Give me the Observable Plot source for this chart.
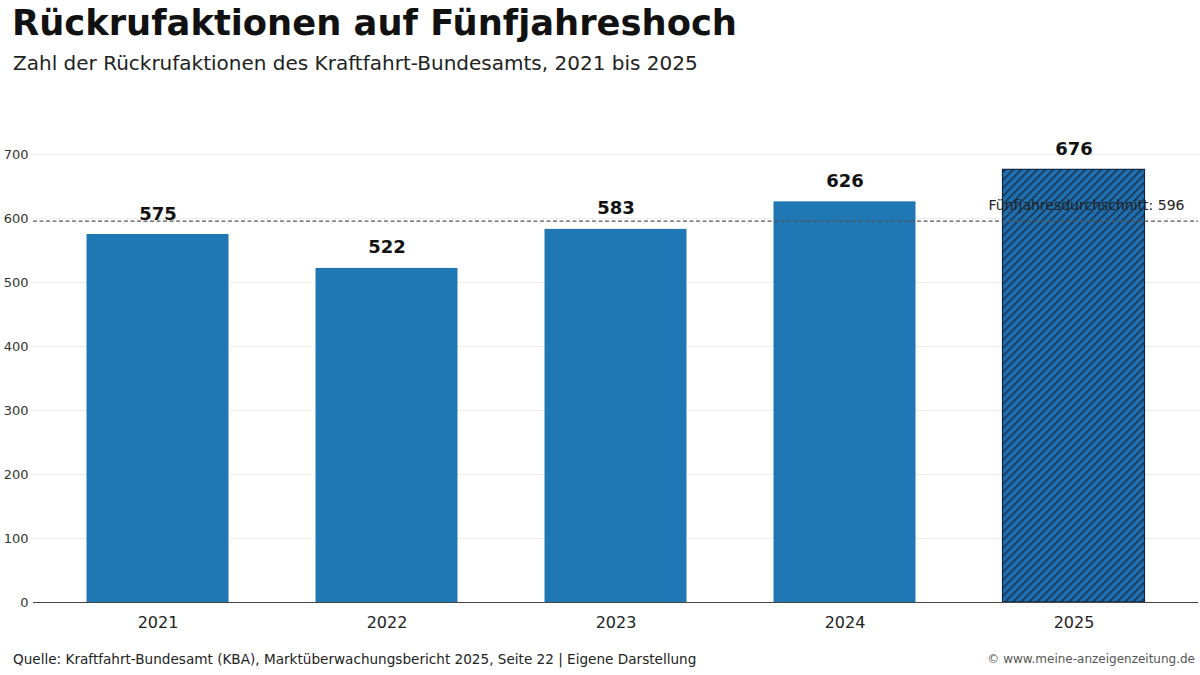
<!DOCTYPE html>
<html>
<head>
<meta charset="utf-8">
<script src="https://cdn.jsdelivr.net/npm/d3@7"></script>
<script src="https://cdn.jsdelivr.net/npm/@observablehq/plot@0.6"></script>
<style>
  html, body { margin: 0; padding: 0; background: #fff; }
  body { width: 1200px; height: 675px; position: relative; overflow: hidden; font-family: "DejaVu Sans", sans-serif; }
  #title { position: absolute; left: 12px; top: 2px; font-size: 35.3px; font-weight: bold; color: #111; white-space: nowrap; }
  #subtitle { position: absolute; left: 13px; top: 51px; font-size: 20px; color: #222; white-space: nowrap; }
  #chart { position: absolute; left: 0; top: 95px; }
  #source { position: absolute; left: 13px; top: 651px; font-size: 13.6px; color: #222; white-space: nowrap; }
  #credit { position: absolute; right: 5px; top: 652px; font-size: 12px; color: #555; white-space: nowrap; }
</style>
</head>
<body>
<div id="title">Rückrufaktionen auf Fünfjahreshoch</div>
<div id="subtitle">Zahl der Rückrufaktionen des Kraftfahrt-Bundesamts, 2021 bis 2025</div>
<div id="chart"></div>
<div id="source">Quelle: Kraftfahrt-Bundesamt (KBA), Marktüberwachungsbericht 2025, Seite 22 | Eigene Darstellung</div>
<div id="credit">© www.meine-anzeigenzeitung.de</div>
<script>
const years = ["2021", "2022", "2023", "2024", "2025"];
const recalls = [575, 522, 583, 626, 676];
const hatched = [false, false, false, false, true];
const average = 596;
const averageLabel = "Fünfjahresdurchschnitt: 596";
const yTicks = [0, 100, 200, 300, 400, 500, 600, 700];

const data = years.map((y, i) => ({year: y, value: recalls[i], hatched: hatched[i]}));

const plot = Plot.plot({
  width: 1200,
  height: 550,
  marginLeft: 33,
  marginRight: 2,
  marginTop: 52.6,
  marginBottom: 43,
  style: {fontFamily: "DejaVu Sans, sans-serif", fontSize: "13px", color: "#333", background: "transparent"},
  x: {domain: years, paddingInner: 0.38, paddingOuter: 0.2337, round: false, label: null},
  y: {domain: [0, 710], label: null},
  marks: [
    Plot.gridY(yTicks, {stroke: "#e8e8e8", strokeOpacity: 1, strokeWidth: 0.8}),
    Plot.axisY(yTicks, {tickSize: 0, tickPadding: 5, fontSize: 13, fill: "#333", label: null}),
    Plot.axisX({tickSize: 0, tickPadding: 14, fontSize: 16, fill: "#222", label: null}),
    Plot.barY(data.filter(d => !d.hatched), {x: "year", y: "value", fill: "#1f77b4"}),
    Plot.barY(data.filter(d => d.hatched), {x: "year", y: "value", fill: "url(#hatch)", stroke: "#10263d", strokeWidth: 1.2}),
    Plot.ruleY([0], {stroke: "#444", strokeWidth: 1}),
    Plot.ruleY([average], {stroke: "#555", strokeWidth: 1.2, strokeDasharray: "4,2.5"}),
    Plot.text([averageLabel], {frameAnchor: "right", y: [average], dx: -14, dy: -16, textAnchor: "end", fontSize: 14, fill: "#222"}),
    Plot.text(data, {x: "year", y: "value", text: d => String(d.value), lineAnchor: "bottom", dy: -15, fontSize: 18, fontWeight: "bold", fill: "#111"})
  ]
});

const defs = d3.select(plot).insert("defs", ":first-child");
const pat = defs.append("pattern")
  .attr("id", "hatch")
  .attr("patternUnits", "userSpaceOnUse")
  .attr("width", 8).attr("height", 8);
pat.append("rect").attr("width", 8).attr("height", 8).attr("fill", "#1f6fae");
pat.append("path")
  .attr("d", "M-1,1 l2,-2 M0,8 l8,-8 M7,9 l2,-2")
  .attr("stroke", "#183a5e").attr("stroke-width", 1.8);

document.getElementById("chart").appendChild(plot);
</script>
</body>
</html>
